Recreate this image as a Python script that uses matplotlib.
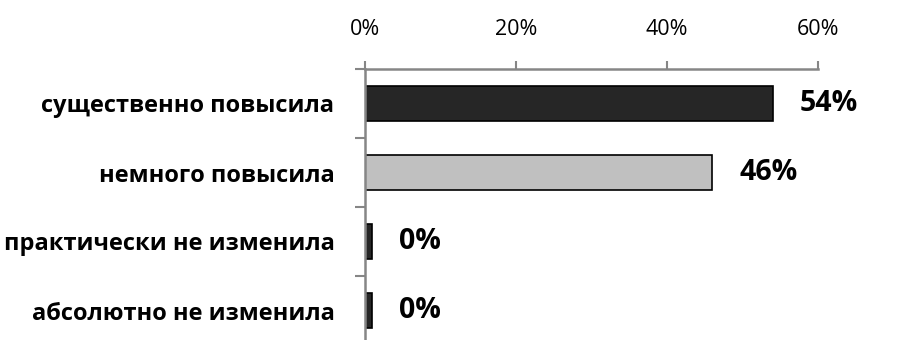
import numpy as np
import matplotlib
matplotlib.use("Agg")
from matplotlib import pyplot as plt

categories = ["существенно повысила", "немного повысила",
              "практически не изменила", "абсолютно не изменила"]
values = [54, 46, 0.9, 0.9]
value_labels = ["54%", "46%", "0%", "0%"]
bar_colors = ["#262626", "#c0c0c0", "#262626", "#262626"]
x_ticks = [0, 20, 40, 60]
x_tick_labels = ["0%", "20%", "40%", "60%"]

plt.rcParams['font.family'] = ['Open Sans', 'DejaVu Sans']

fig = plt.figure(figsize=(9.03, 3.40), dpi=100)
ax = fig.add_axes([365 / 903, -5 / 340, (818 - 365) / 903, (345 - 69) / 340])

y = np.arange(len(categories))
ax.barh(y, values, height=0.52, color=bar_colors, edgecolor="black", linewidth=1.2)

# value labels next to the bars
for i in range(len(values)):
    ax.text(values[i] + 3.6, y[i], value_labels[i], va="center", ha="left",
            fontsize=20.5, fontweight="bold")

ax.set_xlim(0, 60)
ax.set_ylim(len(categories) - 0.5, -0.5)
ax.xaxis.tick_top()
ax.set_xticks(x_ticks)
ax.set_xticklabels(x_tick_labels, fontsize=15.5)
ax.tick_params(axis="x", direction="out", length=6, width=1.5, color="#868686", pad=15)

ax.set_yticks(y)
ax.set_yticklabels(categories, fontsize=17, fontweight="bold")
ax.tick_params(axis="y", which="major", length=0, pad=22)
ax.set_yticks(np.arange(len(categories) + 1) - 0.5, minor=True)
ax.tick_params(axis="y", which="minor", direction="out", length=7, width=1.5, color="#868686")

for s in ["right", "bottom"]:
    ax.spines[s].set_visible(False)
for s in ["top", "left"]:
    ax.spines[s].set_color("#868686")
    ax.spines[s].set_linewidth(1.8)

fig.savefig("out.png", dpi=100)
